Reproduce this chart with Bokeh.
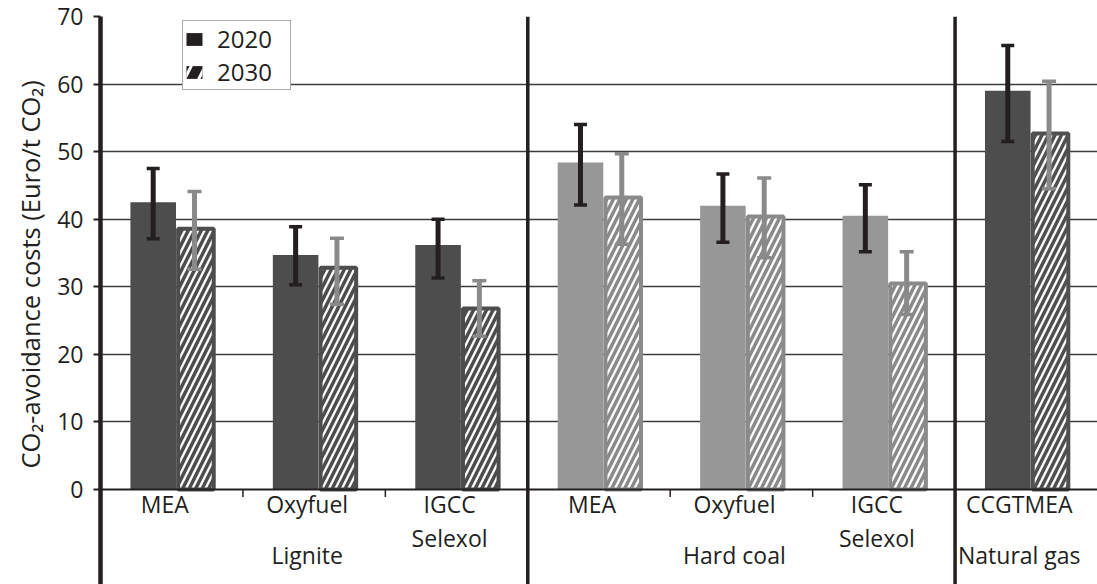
import numpy as np
from bokeh.plotting import figure
from bokeh.models import Range1d, FixedTicker, Span, Title, Legend, LegendItem, ColumnDataSource
from bokeh.core.properties import value
from bokeh.embed import file_html
from bokeh.resources import INLINE

# ---------------- data ----------------
groups = ["Lignite", "Hard coal", "Natural gas"]
processes = ["MEA", "Oxyfuel", "IGCC\nSelexol", "MEA", "Oxyfuel", "IGCC\nSelexol", "CCGTMEA"]
process_group = ["Lignite", "Lignite", "Lignite", "Hard coal", "Hard coal", "Hard coal", "Natural gas"]

cost_2020 = [42.5, 34.7, 36.2, 48.4, 42.0, 40.5, 59.0]
low_2020 = [37.1, 30.3, 31.3, 42.1, 36.6, 35.2, 51.5]
high_2020 = [47.5, 38.9, 40.0, 54.0, 46.7, 45.1, 65.7]

cost_2030 = [38.6, 32.8, 26.8, 43.2, 40.4, 30.5, 52.7]
low_2030 = [32.6, 27.4, 22.7, 36.3, 34.3, 25.9, 44.5]
high_2030 = [44.1, 37.2, 30.9, 49.7, 46.1, 35.2, 60.4]

y_ticks = [0, 10, 20, 30, 40, 50, 60, 70]
series_labels = ["2020", "2030"]
y_label = "CO\u2082-avoidance costs (Euro/t CO\u2082)"

# ---------------- styles ----------------
FONT = "Open Sans"
INK = "#231f20"
bar_color = {"Lignite": "#4d4d4d", "Hard coal": "#979797", "Natural gas": "#4d4d4d"}
hatch_color = {"Lignite": "#4d4d4d", "Hard coal": "#8a8a8a", "Natural gas": "#505050"}
err_color_2020 = INK
err_color_2030 = "#8a8a8a"

n = len(processes)
centers = np.arange(n) + 0.5

src = ColumnDataSource(dict(
    x20=centers - 0.13,
    x30=centers + 0.17,
    xe20=centers - 0.13,
    xe30=centers + 0.16,
    c20=cost_2020, c30=cost_2030,
    lo20=low_2020, hi20=high_2020,
    lo30=low_2030, hi30=high_2030,
    fill20=[bar_color[g] for g in process_group],
    hatch30=[hatch_color[g] for g in process_group],
))

y_top = 70
y_bottom = -14.06

p = figure(width=1097, height=584, output_backend="svg", toolbar_location=None,
           x_range=Range1d(0, 7.0), y_range=Range1d(y_bottom, y_top),
           x_axis_location=None, y_axis_location="left",
           min_border_left=100, min_border_top=16, min_border_right=0, min_border_bottom=0)
p.outline_line_color = None
p.background_fill_color = "white"
p.border_fill_color = "white"

# y axis
yax = p.yaxis[0]
yax.ticker = FixedTicker(ticks=y_ticks)
yax.axis_line_width = 4.5
yax.axis_line_color = INK
yax.major_tick_line_width = 2
yax.major_tick_line_color = INK
yax.major_tick_out = 7
yax.major_tick_in = 0
yax.minor_tick_line_color = None
yax.major_label_text_font = FONT
yax.major_label_text_font_size = "23px"
yax.major_label_text_color = INK
yax.major_label_standoff = 10

# y axis title as a side-panel title (can sit outside the frame)
ytitle = Title(text=y_label, align="left", offset=116, text_font=FONT,
               text_font_size="25.5px", text_font_style="normal", text_color=INK)
if "standoff" in Title.properties():
    ytitle.standoff = 15
p.add_layout(ytitle, "left")

# grid
p.ygrid.ticker = FixedTicker(ticks=[t for t in y_ticks if t > 0])
p.ygrid.grid_line_color = "#3c3c3c"
p.ygrid.grid_line_width = 1.5
p.xgrid.visible = False

# bars
p.vbar(x="x20", top="c20", bottom=0, width=0.32, source=src,
       fill_color="fill20", line_color=None)
p.vbar(x="x30", top="c30", bottom=0, width=0.25, source=src,
       fill_color="white", line_color="hatch30", line_width=4,
       hatch_pattern="/", hatch_color="hatch30", hatch_scale=13, hatch_weight=3.5)

# error bars
p.segment(x0="xe20", y0="lo20", x1="xe20", y1="hi20", source=src, line_color=err_color_2020, line_width=5)
p.scatter(x="xe20", y="lo20", source=src, marker="dash", size=13, line_color=err_color_2020, line_width=3.5)
p.scatter(x="xe20", y="hi20", source=src, marker="dash", size=13, line_color=err_color_2020, line_width=3.5)
p.segment(x0="xe30", y0="lo30", x1="xe30", y1="hi30", source=src, line_color=err_color_2030, line_width=5)
p.scatter(x="xe30", y="lo30", source=src, marker="dash", size=14, line_color=err_color_2030, line_width=3.5)
p.scatter(x="xe30", y="hi30", source=src, marker="dash", size=14, line_color=err_color_2030, line_width=3.5)

# x axis line at 0
p.add_layout(Span(location=0, dimension="width", line_color=INK, line_width=2))

# group separators and category ticks
sep_x = [i for i in range(1, n) if process_group[i] != process_group[i - 1]]
tick_x = [i for i in range(1, n) if process_group[i] == process_group[i - 1]]
p.segment(x0=sep_x, y0=[y_bottom] * len(sep_x), x1=sep_x, y1=[y_top] * len(sep_x),
          line_color=INK, line_width=3.5)
p.segment(x0=tick_x, y0=[0] * len(tick_x), x1=tick_x, y1=[-1.1] * len(tick_x),
          line_color=INK, line_width=1.5)

# category labels (split multi-line names)
line1 = [s.split("\n")[0] for s in processes]
line2_x = [c for c, s in zip(centers, processes) if "\n" in s]
line2 = [s.split("\n")[1] for s in processes if "\n" in s]
txt = dict(text_font=value(FONT), text_font_size="23px", text_color=INK,
           text_align="center", text_baseline="alphabetic", x_offset=-7)
p.text(x=list(centers), y=[-2.2] * n, text=line1, **txt)
p.text(x=line2_x, y=[-7.2] * len(line2), text=line2, **txt)

# group labels centred on each group
g_x = [float(np.mean([c for c, g in zip(centers, process_group) if g == grp])) for grp in groups]
p.text(x=g_x, y=[-9.7] * len(groups), text=groups, **txt)

# legend (proxy renderers holding no visible data)
r20 = p.vbar(x=np.array([np.nan]), top=np.array([np.nan]), width=0.3, fill_color=INK, line_color=None)
r30 = p.vbar(x=np.array([np.nan]), top=np.array([np.nan]), width=0.3, fill_color=INK, line_color=None,
             hatch_pattern="/", hatch_color="white", hatch_scale=28, hatch_weight=3)
legend = Legend(items=[LegendItem(label=series_labels[0], renderers=[r20]),
                       LegendItem(label=series_labels[1], renderers=[r30])],
                location=(82, 494), orientation="vertical",
                border_line_color="#555555", border_line_width=1,
                background_fill_color="white", background_fill_alpha=1,
                label_text_font=FONT, label_text_font_size="24px", label_text_color=INK,
                glyph_width=20, glyph_height=16, label_standoff=13, label_width=72,
                padding=1, spacing=0, margin=0)
p.add_layout(legend)

open("out.html", "w").write(file_html(p, INLINE))
